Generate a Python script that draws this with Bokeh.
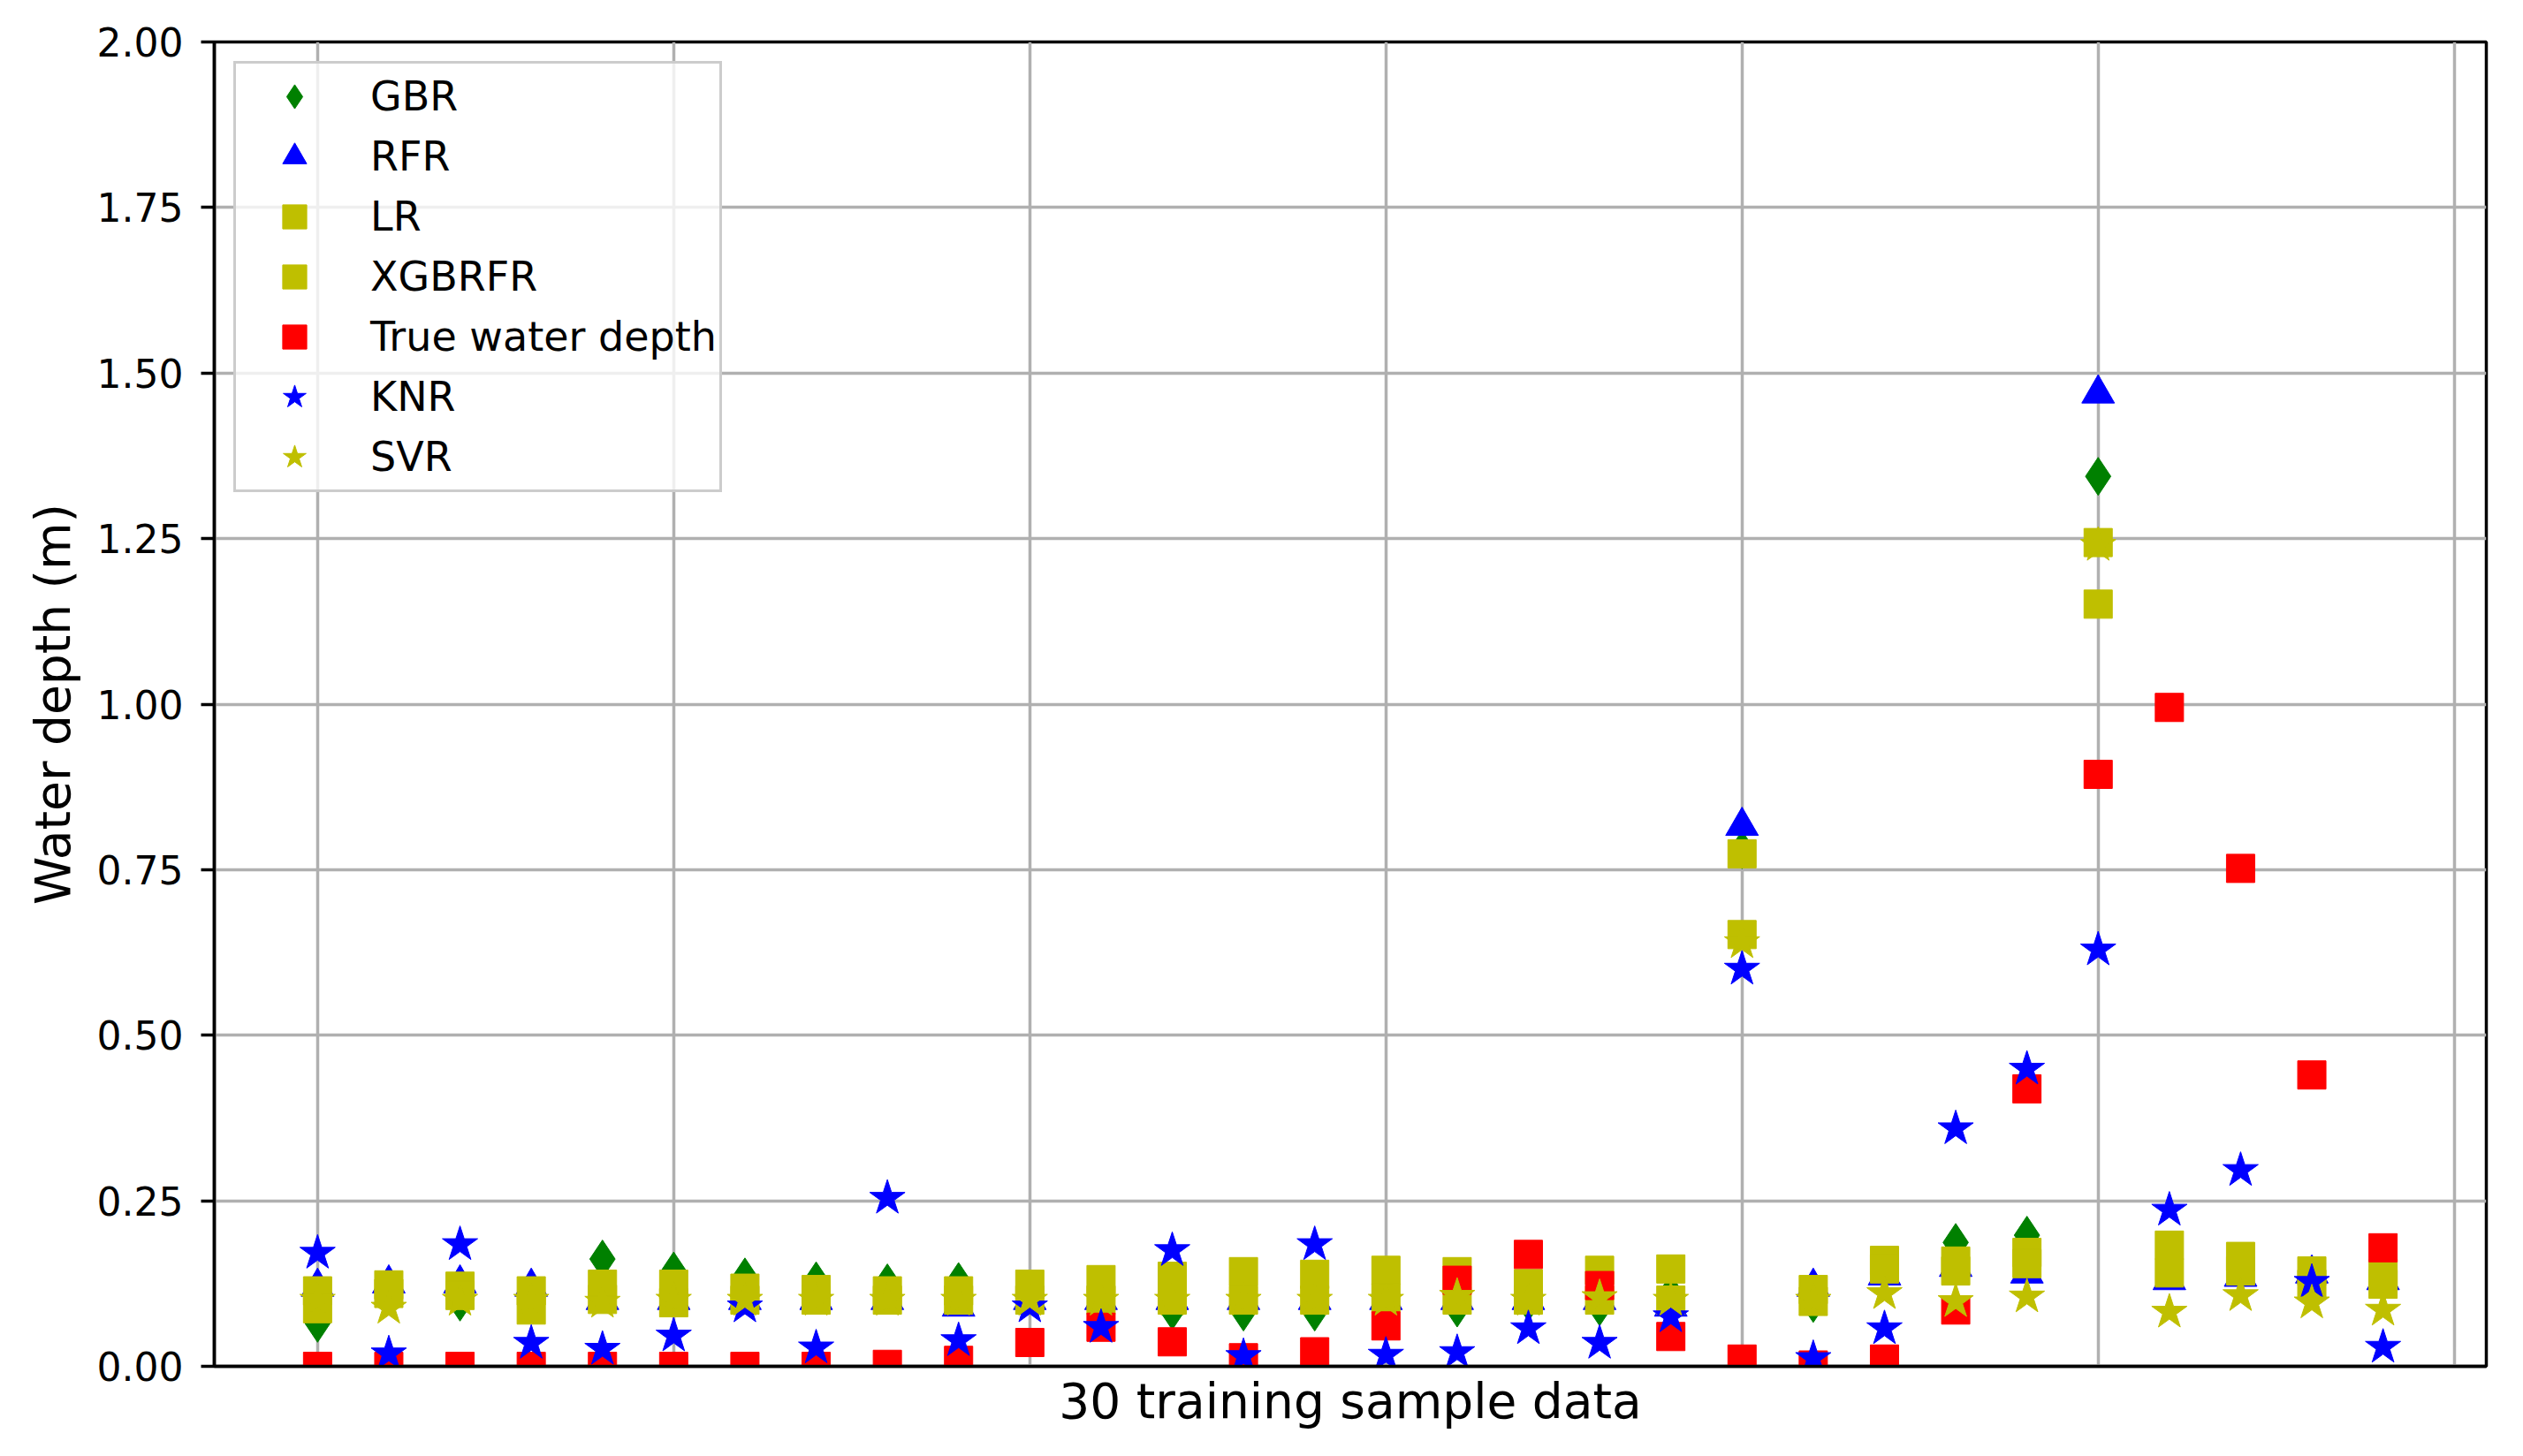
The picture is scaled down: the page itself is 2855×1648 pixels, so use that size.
from bokeh.plotting import figure
from bokeh.models import ColumnDataSource, FixedTicker, NumeralTickFormatter, Range1d
from bokeh.embed import file_html
from bokeh.resources import INLINE

samples = list(range(30))

gbr = [0.065, 0.11, 0.097, 0.10, 0.162, 0.144, 0.135, 0.129, 0.126, 0.128,
       0.11, 0.11, 0.084, 0.082, 0.082, 0.11, 0.088, 0.097, 0.09, 0.11,
       0.78, 0.095, 0.15, 0.187, 0.198, 1.344, 0.16, 0.15, 0.13, 0.13]
rfr = [0.12, 0.125, 0.125, 0.12, 0.10, 0.10, 0.10, 0.10, 0.10, 0.09,
       0.10, 0.10, 0.10, 0.10, 0.10, 0.10, 0.10, 0.10, 0.10, 0.09,
       0.816, 0.12, 0.137, 0.15, 0.14, 1.469, 0.13, 0.135, 0.14, 0.13]
lr = [0.114, 0.123, 0.121, 0.114, 0.124, 0.124, 0.118, 0.116, 0.114, 0.114,
      0.124, 0.131, 0.136, 0.143, 0.139, 0.145, 0.143, 0.125, 0.145, 0.147,
      0.774, 0.116, 0.16, 0.159, 0.172, 1.244, 0.183, 0.166, 0.144, 0.14]
xgbrfr = [0.087, 0.110, 0.107, 0.085, 0.101, 0.096, 0.10, 0.10, 0.10, 0.10,
          0.10, 0.10, 0.10, 0.10, 0.10, 0.103, 0.10, 0.10, 0.10, 0.10,
          0.652, 0.098, 0.147, 0.144, 0.155, 1.151, 0.141, 0.144, 0.124, 0.124]
true_depth = [0.0, 0.0, 0.0, 0.0, 0.0, 0.0, 0.0, 0.0, 0.003, 0.009,
              0.036, 0.059, 0.037, 0.013, 0.022, 0.061, 0.13, 0.169, 0.122, 0.045,
              0.011, 0.002, 0.011, 0.085, 0.419, 0.894, 0.995, 0.752, 0.44, 0.179]
knr = [0.171, 0.019, 0.184, 0.035, 0.026, 0.046, 0.09, 0.028, 0.254, 0.039,
       0.09, 0.059, 0.175, 0.015, 0.184, 0.017, 0.021, 0.057, 0.035, 0.075,
       0.60, 0.012, 0.057, 0.359, 0.449, 0.629, 0.236, 0.296, 0.127, 0.029]
svr = [0.10, 0.088, 0.10, 0.10, 0.097, 0.10, 0.10, 0.10, 0.10, 0.10,
       0.10, 0.10, 0.10, 0.10, 0.10, 0.10, 0.106, 0.10, 0.104, 0.10,
       0.64, 0.10, 0.11, 0.098, 0.105, 1.24, 0.082, 0.107, 0.096, 0.085]

x_grid_ticks = [0, 5, 10, 15, 20, 25, 30]
y_ticks = [0.0, 0.25, 0.5, 0.75, 1.0, 1.25, 1.5, 1.75, 2.0]

series = [
    ("GBR", gbr, "diamond", "#008000", 43),
    ("RFR", rfr, "triangle", "#0000ff", 37),
    ("LR", lr, "square", "#bfbf00", 32),
    ("XGBRFR", xgbrfr, "square", "#bfbf00", 32),
    ("True water depth", true_depth, "square", "#ff0000", 32),
    ("KNR", knr, "star", "#0000ff", 42),
    ("SVR", svr, "star", "#bfbf00", 42),
]

FONT = "DejaVu Sans"

p = figure(width=2839, height=1632, output_backend="svg", toolbar_location=None,
           x_range=Range1d(-1.45, 30.45), y_range=Range1d(0, 2),
           min_border_left=242, min_border_right=26, min_border_top=47,
           min_border_bottom=86, background_fill_color="white")

for name, vals, marker, color, size in series:
    src = ColumnDataSource(dict(x=samples, y=vals))
    p.scatter(x="x", y="y", source=src, marker=marker, size=size,
              fill_color=color, line_color=color, line_width=1,
              legend_label=name)

# axes
p.xaxis.ticker = FixedTicker(ticks=[])
p.yaxis.ticker = FixedTicker(ticks=y_ticks)
p.xgrid.ticker = FixedTicker(ticks=x_grid_ticks)
p.ygrid.ticker = FixedTicker(ticks=y_ticks)
p.yaxis.formatter = NumeralTickFormatter(format="0.00")

for g in (p.xgrid, p.ygrid):
    g.grid_line_color = "#b0b0b0"
    g.grid_line_width = 3.5
    g.grid_line_alpha = 1.0

p.xaxis.major_tick_out = 0
p.xaxis.major_tick_in = 0
p.xaxis.minor_tick_out = 0
p.xaxis.minor_tick_in = 0
p.xaxis.major_label_standoff = 0

p.yaxis.major_tick_out = 15
p.yaxis.major_tick_in = 0
p.yaxis.minor_tick_out = 0
p.yaxis.minor_tick_in = 0
p.yaxis.major_tick_line_width = 3.5
p.yaxis.major_tick_line_color = "black"
p.yaxis.major_label_standoff = 20
p.yaxis.major_label_text_font = FONT
p.yaxis.major_label_text_font_size = "44px"
p.yaxis.major_label_text_color = "black"

for ax in (p.xaxis, p.yaxis):
    ax.axis_line_color = "black"
    ax.axis_line_width = 3.5
    ax.axis_label_text_font = FONT
    ax.axis_label_text_font_size = "55px"
    ax.axis_label_text_font_style = "normal"
    ax.axis_label_text_color = "black"

p.xaxis.axis_label = "30 training sample data"
p.yaxis.axis_label = "Water depth (m)"
p.xaxis.axis_label_standoff = 7
p.yaxis.axis_label_standoff = 15

p.outline_line_color = "black"
p.outline_line_width = 3.5
p.outline_line_alpha = 1.0

# legend
lg = p.legend[0]
lg.location = "top_left"
lg.margin = 22
lg.padding = 3
lg.spacing = 0
lg.glyph_width = 126
lg.glyph_height = 68
lg.label_height = 68
lg.label_standoff = 23
lg.label_text_font = FONT
lg.label_text_font_size = "46px"
lg.label_text_color = "black"
lg.border_line_color = "#cccccc"
lg.border_line_width = 3
lg.border_line_alpha = 1.0
lg.background_fill_color = "white"
lg.background_fill_alpha = 0.8

open("out.html", "w").write(file_html(p, INLINE))
